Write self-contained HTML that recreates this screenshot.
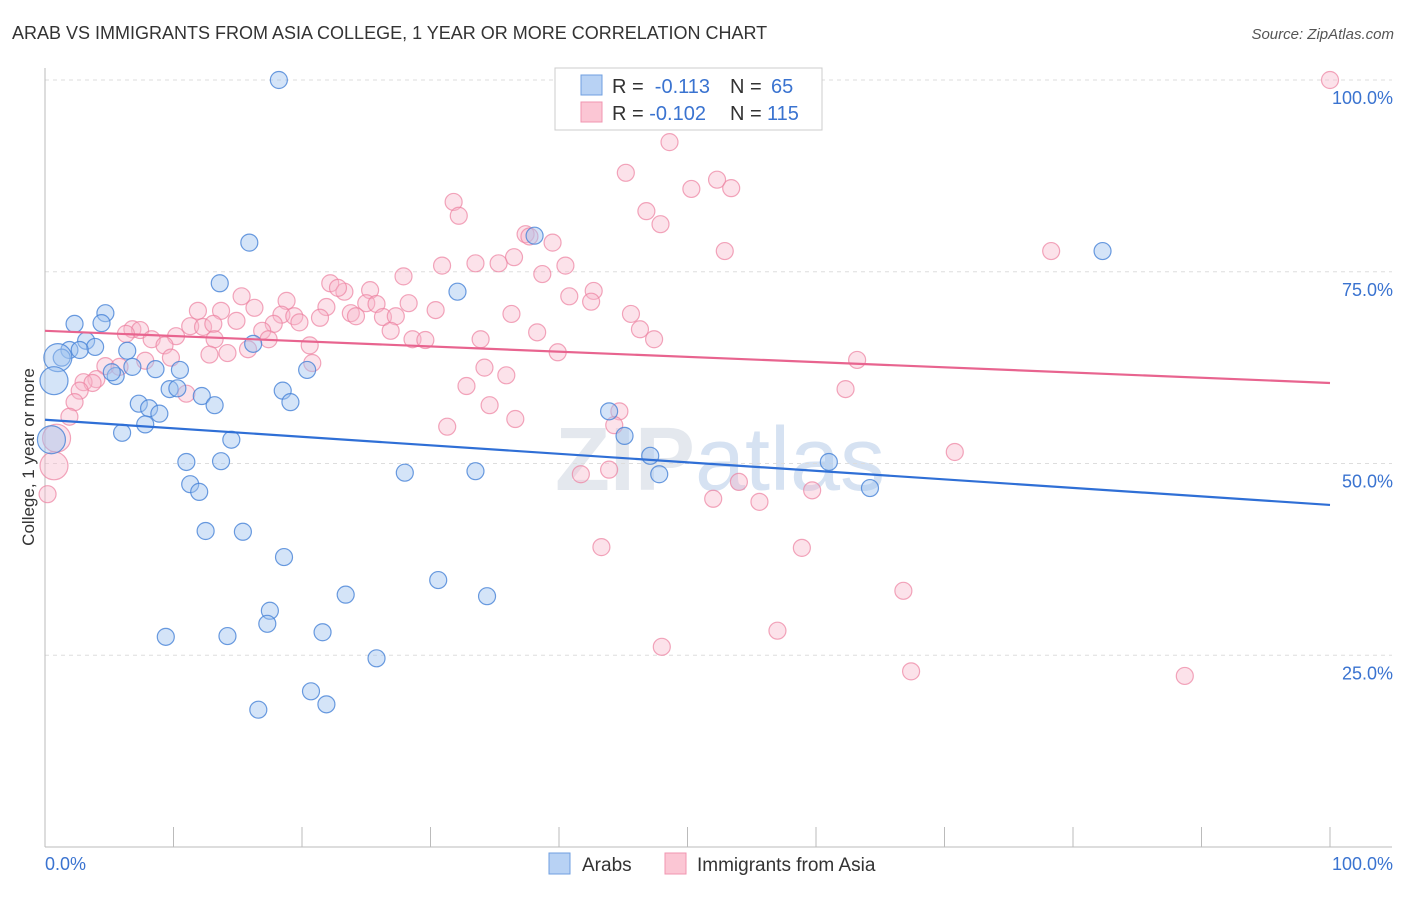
<!DOCTYPE html>
<html><head><meta charset="utf-8"><style>
body{margin:0;background:#fff;font-family:"Liberation Sans",sans-serif;}
svg text{font-family:"Liberation Sans",sans-serif;}
</style></head><body>
<svg id="chart" width="1406" height="892" xmlns="http://www.w3.org/2000/svg">
<text x="12" y="39" font-size="18" fill="#333">ARAB VS IMMIGRANTS FROM ASIA COLLEGE, 1 YEAR OR MORE CORRELATION CHART</text>
<text x="1394" y="39" font-size="15" fill="#555" font-style="italic" text-anchor="end">Source: ZipAtlas.com</text>
<text transform="translate(34,457) rotate(-90)" font-size="17" fill="#333" text-anchor="middle">College, 1 year or more</text>
<text x="720" y="490" font-size="90" fill="#e4e8ee" text-anchor="middle" font-weight="bold">ZIP<tspan fill="#d6e2f2" font-weight="normal">atlas</tspan></text>
<g id="grid"></g><g id="pts"></g><g id="lines"></g>
<g>
<rect x="555" y="68" width="267" height="62" fill="#fff" stroke="#ccc"/>
<rect x="581" y="75" width="21" height="20" fill="#b8d2f4" stroke="#6f9fe0"/>
<rect x="581" y="102" width="21" height="20" fill="#fbc6d4" stroke="#f095b0"/>
<text x="612" y="93" font-size="20" fill="#333">R = <tspan fill="#3a73d0">&#160;-0.113</tspan><tspan x="730">N = </tspan><tspan fill="#3a73d0" x="771">65</tspan></text>
<text x="612" y="120" font-size="20" fill="#333">R = <tspan fill="#3a73d0">-0.102</tspan><tspan x="730">N = </tspan><tspan fill="#3a73d0" x="767">115</tspan></text>
</g>
<g>
<rect x="549" y="853" width="21" height="21" fill="#b8d2f4" stroke="#6f9fe0"/>
<text x="582" y="871" font-size="19" fill="#333">Arabs</text>
<rect x="665" y="853" width="21" height="21" fill="#fbc6d4" stroke="#f095b0"/>
<text x="697" y="871" font-size="19" fill="#333">Immigrants from Asia</text>
</g>
</svg>
<script>
const yTicks=[25,50,75,100];
const yTickLabels=["25.0%","50.0%","75.0%","100.0%"];
const arabs=[[18.2,100],[15.9,78.8],[13.6,73.5],[32.1,72.4],[38.1,79.7],[82.3,77.7],[4.7,69.6],[2.3,68.2],[4.4,68.3],[3.2,66],[3.9,65.2],[1.9,64.8],[2.7,64.8],[6.4,64.7],[1.3,63.8],[1.0,63.8],[0.7,60.8],[16.2,65.6],[5.5,61.4],[5.2,61.9],[6.8,62.6],[8.6,62.3],[10.5,62.2],[20.4,62.2],[9.7,59.7],[10.3,59.8],[12.2,58.8],[18.5,59.5],[19.1,58],[7.3,57.8],[8.1,57.2],[13.2,57.6],[8.9,56.5],[7.8,55.1],[6,54],[14.5,53.1],[0.5,53.1],[11,50.2],[13.7,50.3],[28,48.8],[33.5,49],[43.9,56.8],[45.1,53.6],[47.1,51],[47.8,48.6],[61,50.2],[64.2,46.8],[11.3,47.3],[12,46.3],[12.5,41.2],[15.4,41.1],[18.6,37.8],[30.6,34.8],[23.4,32.9],[34.4,32.7],[17.5,30.8],[17.3,29.1],[21.6,28],[9.4,27.4],[14.2,27.5],[25.8,24.6],[20.7,20.3],[21.9,18.6],[16.6,17.9]];
const arabsBig=[[1.0,63.8],[0.7,60.8],[0.5,53.1]];
const asia=[[100,100],[48.6,91.9],[45.2,87.9],[52.3,87],[50.3,85.8],[53.4,85.9],[31.8,84.1],[32.2,82.3],[46.8,82.9],[47.9,81.2],[37.4,79.9],[37.7,79.6],[39.5,78.8],[52.9,77.7],[78.3,77.7],[36.5,76.9],[30.9,75.8],[33.5,76.1],[35.3,76.1],[40.5,75.8],[27.9,74.4],[38.7,74.7],[22.2,73.5],[23.3,72.4],[25.3,72.6],[22.8,72.9],[15.3,71.8],[18.8,71.2],[25,70.9],[28.3,70.9],[40.8,71.8],[42.7,72.5],[42.5,71.1],[25.8,70.8],[11.9,69.9],[13.7,69.9],[16.3,70.3],[18.4,69.4],[21.9,70.4],[30.4,70],[36.3,69.5],[23.8,69.6],[24.2,69.2],[26.3,69.1],[45.6,69.5],[27.3,69.2],[19.4,69.2],[11.3,67.9],[12.3,67.8],[13.1,68.2],[14.9,68.6],[21.4,69],[17.8,68.2],[19.8,68.4],[6.8,67.5],[7.4,67.4],[6.3,66.9],[10.2,66.6],[13.2,66.2],[16.9,67.3],[17.4,66.2],[8.3,66.2],[9.3,65.4],[26.9,67.3],[28.6,66.2],[29.6,66.1],[33.9,66.2],[38.3,67.1],[46.3,67.5],[47.4,66.2],[20.6,65.4],[15.8,64.9],[14.2,64.4],[39.9,64.5],[12.8,64.2],[7.8,63.4],[9.8,63.8],[20.8,63.1],[63.2,63.5],[4.7,62.7],[5.8,62.6],[34.2,62.5],[35.9,61.5],[4,61],[3,60.6],[3.7,60.5],[32.8,60.1],[2.7,59.5],[11,59.1],[62.3,59.7],[2.3,58],[34.6,57.6],[1.9,56.1],[44.7,56.8],[44.3,55],[36.6,55.8],[31.3,54.8],[0.9,53.3],[70.8,51.5],[0.7,49.7],[43.9,49.2],[41.7,48.6],[54,47.6],[59.7,46.5],[0.2,46],[52,45.4],[55.6,45],[43.3,39.1],[58.9,39],[66.8,33.4],[57,28.2],[48,26.1],[67.4,22.9],[88.7,22.3]];
const asiaBig=[[0.9,53.3],[0.7,49.7]];
const arabsTrend=[55.7,44.6];
const asiaTrend=[67.3,60.5];
const NS="http://www.w3.org/2000/svg";
const X0=45,X1=1330,Y0=847,Y100=80;
function xs(v){return X0+(X1-X0)*v/100;}
function ys(v){return Y0-(Y0-Y100)*v/100;}
function mk(tag,attrs,parent){const e=document.createElementNS(NS,tag);for(const k in attrs)e.setAttribute(k,attrs[k]);parent.appendChild(e);return e;}
const grid=document.getElementById('grid');
yTicks.forEach((t,i)=>{
 const l=mk('line',{x1:X0,x2:1392,y1:ys(t),y2:ys(t),stroke:'#ddd','stroke-dasharray':'4,4'},grid);
 
 
 const tx=mk('text',{x:1393,y:ys(t)+24,'font-size':18,fill:'#3a73d0','text-anchor':'end'},grid);
 tx.textContent=yTickLabels[i];
 
 
});
const ax=mk('line',{x1:X0,x2:X0,y1:68,y2:Y0,stroke:'#bbb'},grid);


const bx=mk('line',{x1:X0,x2:1392,y1:Y0,y2:Y0,stroke:'#bbb'},grid);


for(let i=0;i<=10;i++){
 const t=mk('line',{x1:xs(i*10),x2:xs(i*10),y1:827,y2:Y0,stroke:'#bbb'},grid);
 
 
}
const xl=mk('text',{x:45,y:870,'font-size':18,fill:'#3a73d0'},grid);xl.textContent='0.0%';


const xr=mk('text',{x:1393,y:870,'font-size':18,fill:'#3a73d0','text-anchor':'end'},grid);xr.textContent='100.0%';


const pts=document.getElementById('pts');
function draw(arr,big,fill,stroke,name){
 arr.forEach(p=>{
  const isBig=big.some(b=>b[0]===p[0]&&b[1]===p[1]);
  const c=mk('circle',{cx:xs(p[0]),cy:ys(p[1]),r:isBig?14:8.5,fill:fill,stroke:stroke,'stroke-width':1.2},pts);
  
  
 });
}
draw(asia,asiaBig,'rgba(248,182,202,0.4)','rgba(236,128,160,0.7)','asia-point');
draw(arabs,arabsBig,'rgba(160,196,240,0.45)','rgba(70,130,215,0.8)','arab-point');
const lines=document.getElementById('lines');
const la=mk('line',{x1:xs(0),x2:xs(100),y1:ys(arabsTrend[0]),y2:ys(arabsTrend[1]),stroke:'#2f6fd6','stroke-width':2.2},lines);


const lp=mk('line',{x1:xs(0),x2:xs(100),y1:ys(asiaTrend[0]),y2:ys(asiaTrend[1]),stroke:'#e8648f','stroke-width':2.2},lines);


</script>
</body></html>
